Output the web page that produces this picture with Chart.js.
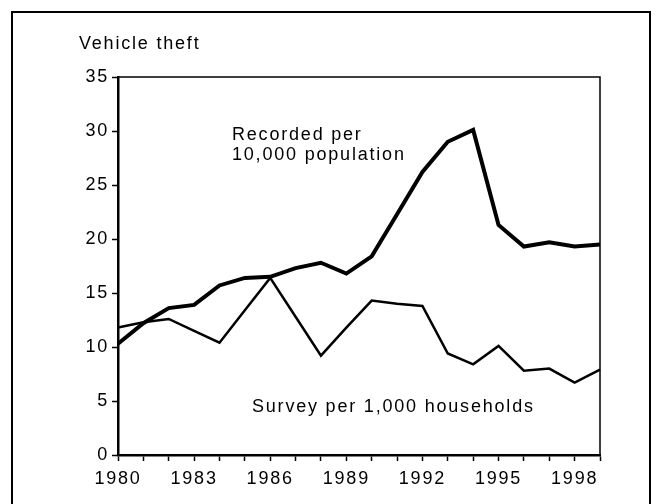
<!DOCTYPE html>
<html>
<head>
<meta charset="utf-8">
<script src="https://cdn.jsdelivr.net/npm/chart.js@4"></script>
<style>
    body { margin: 0; background: #fff; overflow: hidden; }
    .amb-frame { position: absolute; left: 11px; top: 11px; width: 636px; height: 600px; border: 2px solid #000; }
    .amb-grafic { position: absolute; left: 0; top: 0; }
</style>
</head>
<body>
<div class="amb-frame"></div>
<canvas id="grafic-roubos" class="amb-grafic" width="656" height="504"></canvas>
<script>
const anos = ['1980', '1981', '1982', '1983', '1984', '1985', '1986', '1987', '1988', '1989',
    '1990', '1991', '1992', '1993', '1994', '1995', '1996', '1997', '1998', '1999'];

// recorded per 10,000 population
const registrados = [10.3, 12.2, 13.6, 13.9, 15.7, 16.4, 16.5, 17.3, 17.8, 16.8,
    18.4, 22.3, 26.2, 29.0, 30.1, 21.3, 19.3, 19.7, 19.3, 19.5];

// survey per 1,000 households
const pesquisa = [11.8, 12.3, 12.6, 11.5, 10.4, 13.4, 16.4, 12.8, 9.2, 11.8,
    14.3, 14.0, 13.8, 9.4, 8.4, 10.1, 7.8, 8.0, 6.7, 7.9];

const yTicks = [0, 5, 10, 15, 20, 25, 30, 35];

const ESPACO = '1.8px';
const FONTE = "'Liberation Sans', Arial, sans-serif";

Chart.defaults.font.family = FONTE;
Chart.defaults.font.size = 18;
Chart.defaults.color = '#000';

const textos = {
    id: 'textos',
    beforeDraw: function (chart) {
        chart.ctx.letterSpacing = ESPACO;
    },
    afterDraw: function (chart) {
        const ctx = chart.ctx;
        const area = chart.chartArea;
        ctx.save();
        // linha fina em cima e a direita
        ctx.strokeStyle = '#000';
        ctx.lineWidth = 1.5;
        ctx.beginPath();
        ctx.moveTo(area.left, area.top);
        ctx.lineTo(area.right, area.top);
        ctx.lineTo(area.right, area.bottom);
        ctx.stroke();

        ctx.letterSpacing = ESPACO;
        ctx.fillStyle = '#000';
        ctx.font = '18px ' + FONTE;
        ctx.textBaseline = 'middle';
        ctx.textAlign = 'left';
        ctx.fillText('Vehicle theft', 79, 44);
        ctx.fillText('Recorded per', 232, 135);
        ctx.fillText('10,000 population', 232, 155);
        ctx.fillText('Survey per 1,000 households', 252, 407);
        ctx.restore();
    }
};

const data = {
    labels: anos,
    datasets: [{
        label: 'Recorded per 10,000 population',
        data: registrados,
        borderColor: '#000',
        borderWidth: 4,
        pointRadius: 0,
        tension: 0,
        clip: false
    }, {
        label: 'Survey per 1,000 households',
        data: pesquisa,
        borderColor: '#000',
        borderWidth: 2.5,
        pointRadius: 0,
        tension: 0,
        clip: false
    }]
};

const config = {
    type: 'line',
    data: data,
    plugins: [textos],
    options: {
        responsive: false,
        animation: false,
        events: [],
        layout: { padding: { left: 0, top: 77, right: 56, bottom: 0 } },
        plugins: {
            legend: { display: false },
            tooltip: { enabled: false }
        },
        scales: {
            x: {
                type: 'category',
                offset: false,
                grid: {
                    drawOnChartArea: false,
                    drawTicks: true,
                    tickLength: 6,
                    tickWidth: 1.5,
                    tickColor: '#000'
                },
                border: { color: '#000', width: 2.5 },
                ticks: {
                    autoSkip: false,
                    maxRotation: 0,
                    padding: 7,
                    callback: function (v, i) {
                        return i % 3 === 0 ? anos[i] : '';
                    }
                },
                afterFit: function (scale) { scale.height = 49; }
            },
            y: {
                min: 0,
                max: 35,
                afterBuildTicks: function (scale) {
                    scale.ticks = yTicks.map(function (v) { return { value: v }; });
                },
                grid: {
                    drawOnChartArea: false,
                    drawTicks: true,
                    tickLength: 6,
                    tickWidth: 1.5,
                    tickColor: '#000'
                },
                border: { color: '#000', width: 2.5 },
                ticks: { padding: 3 },
                afterFit: function (scale) { scale.width = 118; }
            }
        }
    }
};

const grafico = new Chart(document.getElementById('grafic-roubos'), config);
</script>
</body>
</html>
